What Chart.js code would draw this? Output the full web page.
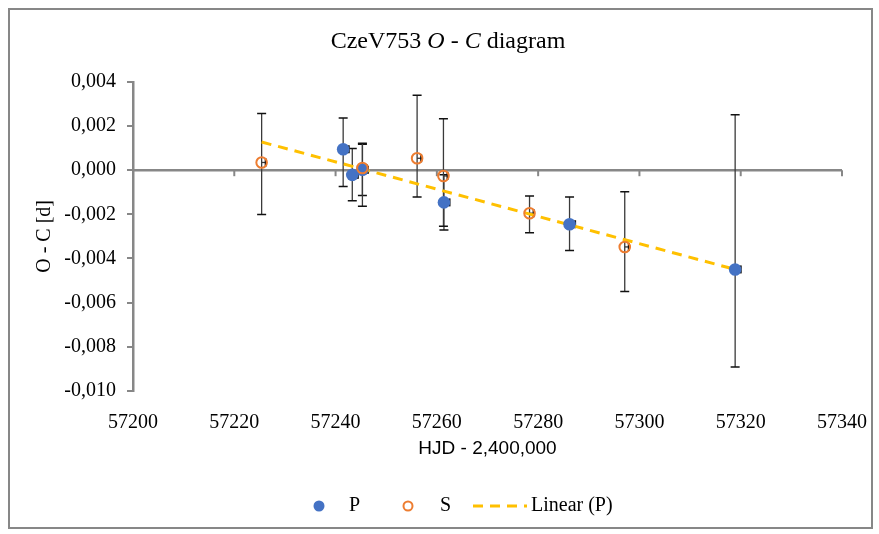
<!DOCTYPE html>
<html><head><meta charset="utf-8">
<script src="https://cdn.jsdelivr.net/npm/chart.js@4.4.1/dist/chart.umd.min.js"></script>
<style>html,body{margin:0;padding:0;background:#fff;} #wrap{width:879px;height:534px;position:relative;}</style>
</head><body><div id="wrap"><canvas id="c" width="879" height="534"></canvas></div>
<script>
// ---- data ----
const pX = [57241.5, 57243.3, 57245.3, 57261.4, 57286.2, 57318.9];
const pY = [0.00095, -0.00021, 0.00002, -0.00146, -0.00245, -0.0045];
const pErrPlus  = [0.00142, 0.00119, 0.00116, 0.00125, 0.00124, 0.00701];
const pErrMinus = [0.00169, 0.00118, 0.00117, 0.00125, 0.00119, 0.00442];
const pXErr = [1.1, 1.1, 1.1, 1.1, 1.1, 1.1];

const sX = [57225.4, 57245.3, 57256.1, 57261.3, 57278.3, 57297.1];
const sY = [0.00035, 0.0001, 0.00054, -0.00026, -0.00195, -0.00348];
const sErrPlus  = [0.00222, 0.00112, 0.00286, 0.00259, 0.00078, 0.0025];
const sErrMinus = [0.00236, 0.00173, 0.00175, 0.00228, 0.00089, 0.00202];
const sXErr = [0.8, 0.8, 0.8, 0.8, 0.8, 0.8];

const trendX = [57225.4, 57318.9];
const trendY = [0.00128, -0.0045];

const xTicks = [57200, 57220, 57240, 57260, 57280, 57300, 57320, 57340];
const yTicks = [0.004, 0.002, 0, -0.002, -0.004, -0.006, -0.008, -0.010];

const titleParts = [["CzeV753 ", false], ["O", true], [" - ", false], ["C", true], [" diagram", false]];
const yTitle = "O - C [d]";
const xTitle = "HJD - 2,400,000";
const legendLabels = ["P", "S", "Linear (P)"];

// ---- styles ----
const BLUE = '#4472C4', ORANGE = '#ED7D31', GOLD = '#FFC000', AXIS = '#878787';
const SERIF = '"Liberation Serif", "Times New Roman", serif';

const toPts = (xs, ys) => xs.map((x, i) => ({x: x, y: ys[i]}));

const errorBars = {
  id: 'errorBars',
  beforeDatasetsDraw(chart) {
    const {ctx, chartArea: a, scales: {x, y}} = chart;
    ctx.save();
    // horizontal axis at y = 0
    const y0 = y.getPixelForValue(0);
    ctx.strokeStyle = AXIS; ctx.lineWidth = 2.5;
    ctx.beginPath(); ctx.moveTo(a.left, y0); ctx.lineTo(a.right, y0); ctx.stroke();
    ctx.lineWidth = 2;
    xTicks.forEach(t => {
      if (t === xTicks[0]) return;
      const px = x.getPixelForValue(t);
      ctx.beginPath(); ctx.moveTo(px, y0); ctx.lineTo(px, y0 + 6); ctx.stroke();
    });
    const draw = (xs, ys, ep, em, xe) => {
      xs.forEach((xv, i) => {
        const px = x.getPixelForValue(xv);
        const pyT = y.getPixelForValue(ys[i] + ep[i]);
        const pyB = y.getPixelForValue(ys[i] - em[i]);
        const py = y.getPixelForValue(ys[i]);
        ctx.strokeStyle = '#3a3a3a'; ctx.lineWidth = 1.3;
        ctx.beginPath(); ctx.moveTo(px, pyT); ctx.lineTo(px, pyB); ctx.stroke();
        ctx.strokeStyle = '#111'; ctx.lineWidth = 1.5;
        ctx.beginPath();
        ctx.moveTo(px - 4.5, pyT); ctx.lineTo(px + 4.5, pyT);
        ctx.moveTo(px - 4.5, pyB); ctx.lineTo(px + 4.5, pyB);
        ctx.stroke();
        const pxR = x.getPixelForValue(xv + xe[i]);
        ctx.strokeStyle = '#3a3a3a'; ctx.lineWidth = 1.3;
        ctx.beginPath(); ctx.moveTo(px, py); ctx.lineTo(pxR, py); ctx.stroke();
        ctx.strokeStyle = '#111'; ctx.lineWidth = 2;
        ctx.beginPath(); ctx.moveTo(pxR, py - 4); ctx.lineTo(pxR, py + 4); ctx.stroke();
      });
    };
    draw(pX, pY, pErrPlus, pErrMinus, pXErr);
    draw(sX, sY, sErrPlus, sErrMinus, sXErr);
    ctx.restore();
  }
};

const decor = {
  id: 'decor',
  afterDraw(chart) {
    const {ctx, chartArea: a} = chart;
    ctx.save();
    // outer border
    ctx.strokeStyle = AXIS; ctx.lineWidth = 2;
    ctx.strokeRect(9, 9, 863, 519);
    // title with italic parts
    ctx.fillStyle = '#000';
    ctx.textBaseline = 'middle';
    const fs = 24;
    const fontFor = it => (it ? 'italic ' : '') + fs + 'px ' + SERIF;
    let total = 0;
    titleParts.forEach(([t, it]) => { ctx.font = fontFor(it); total += ctx.measureText(t).width; });
    let tx = 448 - total / 2;
    ctx.textAlign = 'left';
    titleParts.forEach(([t, it]) => { ctx.font = fontFor(it); ctx.fillText(t, tx, 42); tx += ctx.measureText(t).width; });
    // y title
    ctx.font = '20px ' + SERIF;
    ctx.save();
    ctx.translate(45, (a.top + a.bottom) / 2);
    ctx.rotate(-Math.PI / 2);
    ctx.textAlign = 'center';
    ctx.fillText(yTitle, 0, 0);
    ctx.restore();
    // x title
    ctx.font = '19px "Liberation Sans Narrow", "Arial Narrow", "Liberation Sans", sans-serif';
    ctx.textAlign = 'center';
    ctx.fillText(xTitle, (a.left + a.right) / 2, 449);
    // legend
    const ly = 506;
    ctx.fillStyle = BLUE;
    ctx.beginPath(); ctx.arc(319, ly, 5.5, 0, Math.PI * 2); ctx.fill();
    ctx.strokeStyle = ORANGE; ctx.lineWidth = 2;
    ctx.beginPath(); ctx.arc(408, ly, 4.5, 0, Math.PI * 2); ctx.stroke();
    ctx.strokeStyle = GOLD; ctx.lineWidth = 3; ctx.setLineDash([10, 7]);
    ctx.beginPath(); ctx.moveTo(473, ly); ctx.lineTo(527, ly); ctx.stroke();
    ctx.setLineDash([]);
    ctx.fillStyle = '#000';
    ctx.font = '20px ' + SERIF;
    ctx.textAlign = 'left';
    ctx.fillText(legendLabels[0], 349, ly);
    ctx.fillText(legendLabels[1], 440, ly);
    ctx.fillText(legendLabels[2], 531, ly);
    ctx.restore();
  }
};

new Chart(document.getElementById('c'), {
  type: 'scatter',
  data: {
    datasets: [
      { label: legendLabels[2], data: toPts(trendX, trendY), showLine: true, borderColor: GOLD, borderWidth: 3,
        borderDash: [10, 7], pointRadius: 0, fill: false, order: 3 },
      { label: legendLabels[0], data: toPts(pX, pY), pointRadius: 6.3, pointBackgroundColor: BLUE,
        pointBorderColor: BLUE, pointBorderWidth: 0, backgroundColor: BLUE, borderColor: BLUE, order: 2 },
      { label: legendLabels[1], data: toPts(sX, sY), pointRadius: 5.3, pointBackgroundColor: 'rgba(0,0,0,0)',
        pointBorderColor: ORANGE, pointBorderWidth: 2, backgroundColor: 'rgba(0,0,0,0)', borderColor: ORANGE, order: 1 }
    ]
  },
  options: {
    responsive: false,
    animation: false,
    devicePixelRatio: 1,
    layout: { padding: { left: 0, top: 82, right: 36, bottom: 0 } },
    plugins: { legend: { display: false }, title: { display: false }, tooltip: { enabled: false } },
    scales: {
      x: {
        type: 'linear', min: 57200, max: 57340,
        afterBuildTicks: s => { s.ticks = xTicks.map(v => ({value: v})); },
        afterFit: s => { s.height = 534 - 390.7; },
        grid: { display: false }, border: { display: false },
        ticks: { padding: 12, maxRotation: 0, autoSkip: false, color: '#000',
          font: { family: SERIF, size: 20 }, callback: v => String(v) }
      },
      y: {
        type: 'linear', min: -0.010, max: 0.004,
        afterBuildTicks: s => { s.ticks = yTicks.map(v => ({value: v})); },
        afterFit: s => { s.width = 133; },
        grid: { drawOnChartArea: false, drawTicks: true, tickLength: 6, color: AXIS, lineWidth: 2 },
        border: { display: true, color: AXIS, width: 2.5 },
        ticks: { padding: 11, color: '#000', font: { family: SERIF, size: 20 },
          callback: v => (Math.abs(v) < 1e-9 ? 0 : v).toFixed(3).replace('.', ',') }
      }
    }
  },
  plugins: [errorBars, decor]
});
</script>
</body></html>
